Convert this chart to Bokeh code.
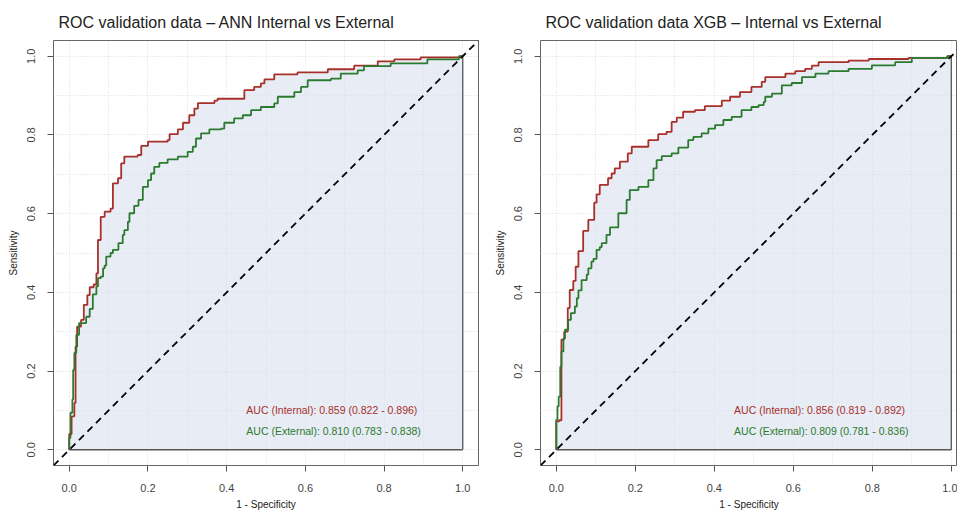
from bokeh.plotting import figure
from bokeh.layouts import row
from bokeh.models import FixedTicker, PrintfTickFormatter, Slope, Range1d
from bokeh.core.properties import value
from bokeh.embed import file_html
from bokeh.resources import INLINE

# ---------------- data ----------------
titles = ["ROC validation data \u2013 ANN Internal vs External",
          "ROC validation data XGB \u2013 Internal vs External"]

ann_int_fpr = [0, 0, 0.006, 0.013, 0.016, 0.02, 0.03, 0.037, 0.046, 0.052, 0.062, 0.069, 0.073,
               0.08, 0.09, 0.105, 0.111, 0.124, 0.132, 0.14, 0.174, 0.183, 0.2, 0.25, 0.255,
               0.276, 0.289, 0.305, 0.318, 0.327, 0.369, 0.377, 0.445, 0.47, 0.487, 0.496,
               0.521, 0.58, 0.657, 0.724, 0.784, 0.826, 0.893, 0.995, 1.0]
ann_int_tpr = [0, 0.04, 0.085, 0.119, 0.262, 0.313, 0.33, 0.368, 0.393, 0.413, 0.42, 0.448, 0.533,
               0.592, 0.605, 0.613, 0.677, 0.69, 0.728, 0.745, 0.749, 0.772, 0.783, 0.787, 0.802,
               0.814, 0.831, 0.85, 0.867, 0.881, 0.887, 0.892, 0.914, 0.922, 0.931, 0.941,
               0.954, 0.959, 0.967, 0.976, 0.987, 0.992, 0.997, 1.0, 1.0]

ann_ext_fpr = [0, 0, 0.003, 0.008, 0.01, 0.013, 0.018, 0.025, 0.043, 0.052, 0.06, 0.069, 0.073,
               0.08, 0.086, 0.09, 0.094, 0.105, 0.111, 0.125, 0.136, 0.14, 0.149, 0.153, 0.165,
               0.176, 0.187, 0.2, 0.208, 0.216, 0.229, 0.25, 0.276, 0.301, 0.314, 0.322, 0.335,
               0.356, 0.386, 0.394, 0.419, 0.441, 0.462, 0.487, 0.521, 0.53, 0.572, 0.589, 0.606,
               0.665, 0.69, 0.733, 0.749, 0.817, 0.91, 0.99, 1.0]
ann_ext_tpr = [0, 0.03, 0.094, 0.128, 0.203, 0.246, 0.292, 0.322, 0.338, 0.358, 0.395, 0.415, 0.436,
               0.44, 0.461, 0.468, 0.491, 0.5, 0.508, 0.525, 0.546, 0.558, 0.579, 0.601, 0.62,
               0.635, 0.668, 0.685, 0.702, 0.719, 0.729, 0.738, 0.745, 0.757, 0.77, 0.791, 0.804,
               0.814, 0.816, 0.831, 0.842, 0.85, 0.863, 0.871, 0.88, 0.897, 0.909, 0.922, 0.939,
               0.943, 0.956, 0.964, 0.975, 0.982, 0.992, 1.0, 1.0]

xgb_int_fpr = [0, 0, 0.007, 0.013, 0.02, 0.029, 0.034, 0.043, 0.049, 0.056, 0.068, 0.081, 0.096,
               0.102, 0.11, 0.131, 0.14, 0.148, 0.161, 0.181, 0.191, 0.233, 0.258, 0.279, 0.292,
               0.305, 0.321, 0.351, 0.376, 0.419, 0.44, 0.465, 0.494, 0.52, 0.529, 0.58, 0.605,
               0.63, 0.647, 0.664, 0.74, 0.791, 0.892, 0.99, 1.0]
xgb_int_tpr = [0, 0.072, 0.075, 0.28, 0.30, 0.36, 0.406, 0.429, 0.465, 0.505, 0.556, 0.584, 0.628,
               0.649, 0.673, 0.69, 0.702, 0.715, 0.732, 0.753, 0.77, 0.787, 0.802, 0.808, 0.833,
               0.844, 0.859, 0.863, 0.873, 0.887, 0.897, 0.909, 0.922, 0.935, 0.947, 0.956, 0.962,
               0.968, 0.976, 0.985, 0.989, 0.993, 0.996, 1.0, 1.0]

xgb_ext_fpr = [0, 0, 0.003, 0.006, 0.01, 0.013, 0.018, 0.022, 0.03, 0.037, 0.047, 0.052, 0.056,
               0.064, 0.077, 0.081, 0.089, 0.094, 0.102, 0.11, 0.115, 0.127, 0.136, 0.157, 0.178,
               0.186, 0.208, 0.233, 0.246, 0.254, 0.267, 0.292, 0.309, 0.334, 0.347, 0.368, 0.385,
               0.402, 0.423, 0.444, 0.469, 0.494, 0.512, 0.525, 0.529, 0.546, 0.571, 0.596, 0.622,
               0.656, 0.689, 0.74, 0.799, 0.858, 0.9, 0.99, 1.0]
xgb_ext_tpr = [0, 0.076, 0.11, 0.135, 0.211, 0.25, 0.283, 0.305, 0.33, 0.347, 0.364, 0.385, 0.405,
               0.431, 0.445, 0.461, 0.478, 0.485, 0.508, 0.515, 0.525, 0.546, 0.565, 0.601, 0.635,
               0.66, 0.668, 0.685, 0.715, 0.736, 0.746, 0.753, 0.768, 0.787, 0.795, 0.804, 0.816,
               0.825, 0.838, 0.846, 0.863, 0.871, 0.876, 0.884, 0.897, 0.905, 0.926, 0.932, 0.947,
               0.956, 0.962, 0.968, 0.977, 0.985, 0.996, 1.0, 1.0]

auc_labels_ann = ["AUC (Internal): 0.859 (0.822 - 0.896)", "AUC (External): 0.810 (0.783 - 0.838)"]
auc_labels_xgb = ["AUC (Internal): 0.856 (0.819 - 0.892)", "AUC (External): 0.809 (0.781 - 0.836)"]

tick_vals = [0.0, 0.2, 0.4, 0.6, 0.8, 1.0]
grid_vals = [0.0, 0.1, 0.2, 0.3, 0.4, 0.5, 0.6, 0.7, 0.8, 0.9, 1.0]

# ---------------- styling ----------------
RED = "#a8302a"
GREEN = "#2b7a30"
FILL = "#d9dfef"
FONT = "Liberation Sans"


def make_fig(title, ifpr, itpr, efpr, etpr, labels, xend, frame_w, min_left, min_right):
    p = figure(title=title, frame_width=frame_w, frame_height=425,
               min_border_left=min_left, min_border_right=min_right,
               min_border_top=40, min_border_bottom=45,
               x_range=Range1d(-0.04, xend), y_range=Range1d(-0.04, 1.04),
               output_backend="svg", toolbar_location=None)
    p.background_fill_color = "white"
    p.border_fill_color = "white"
    p.outline_line_color = "#666666"
    p.outline_line_width = 1

    p.title.text_font = FONT
    p.title.text_font_size = "16px"
    p.title.text_font_style = "normal"
    p.title.text_color = "#222222"
    p.title.offset = 5
    p.title.standoff = 20

    for ax in (p.xaxis[0], p.yaxis[0]):
        ax.ticker = FixedTicker(ticks=tick_vals)
        ax.formatter = PrintfTickFormatter(format="%.1f")
        ax.axis_line_color = None
        ax.major_tick_out = 6
        ax.major_tick_in = 0
        ax.major_tick_line_color = "#555555"
        ax.minor_tick_line_color = None
        ax.major_label_text_font = FONT
        ax.major_label_text_font_size = "11px"
        ax.major_label_text_color = "#444444"
        ax.axis_label_text_font = FONT
        ax.axis_label_text_font_size = "10px"
        ax.axis_label_text_font_style = "normal"
        ax.axis_label_text_color = "#222222"
    p.xaxis.axis_label = "1 - Specificity"
    p.yaxis.axis_label = "Sensitivity"
    p.yaxis.major_label_orientation = "vertical"
    p.xaxis.major_label_standoff = 12
    p.yaxis.major_label_standoff = 12
    p.xaxis.axis_label_standoff = 4
    p.yaxis.axis_label_standoff = 6

    for g in (p.xgrid[0], p.ygrid[0]):
        g.ticker = FixedTicker(ticks=grid_vals)
        g.grid_line_color = "#dadada"
        g.grid_line_dash = "1 2"
        g.grid_line_width = 1

    zeros = [0] * len(ifpr)
    p.varea_step(x=ifpr, y1=zeros, y2=itpr, step_mode="after",
                 fill_color=FILL, fill_alpha=0.6)
    p.line(x=[ifpr[0], ifpr[-1]], y=[0, 0], line_color="#555555", line_width=1.3)
    p.line(x=[ifpr[-1], ifpr[-1]], y=[0, itpr[-1]], line_color="#555555", line_width=1.3)

    p.step(x=ifpr, y=itpr, mode="after", line_color=RED, line_width=1.8)
    p.step(x=efpr, y=etpr, mode="after", line_color=GREEN, line_width=1.8)

    p.add_layout(Slope(gradient=1, y_intercept=0, line_color="black",
                       line_width=1.8, line_dash="7 5"))

    p.text(x=[0.45], y=[0.1], text=[labels[0]], text_color=RED,
           text_font=value(FONT), text_font_size="10.5px",
           text_align="left", text_baseline="middle")
    p.text(x=[0.45], y=[0.048], text=[labels[1]], text_color=GREEN,
           text_font=value(FONT), text_font_size="10.5px",
           text_align="left", text_baseline="middle")
    return p


p1 = make_fig(titles[0], ann_int_fpr, ann_int_tpr, ann_ext_fpr, ann_ext_tpr,
              auc_labels_ann, 1.04, 425, 53, 10)
p2 = make_fig(titles[1], xgb_int_fpr, xgb_int_tpr, xgb_ext_fpr, xgb_ext_tpr,
              auc_labels_xgb, 1.0157, 417, 52, 0)

layout = row(p1, p2)
open("out.html", "w").write(file_html(layout, INLINE))
